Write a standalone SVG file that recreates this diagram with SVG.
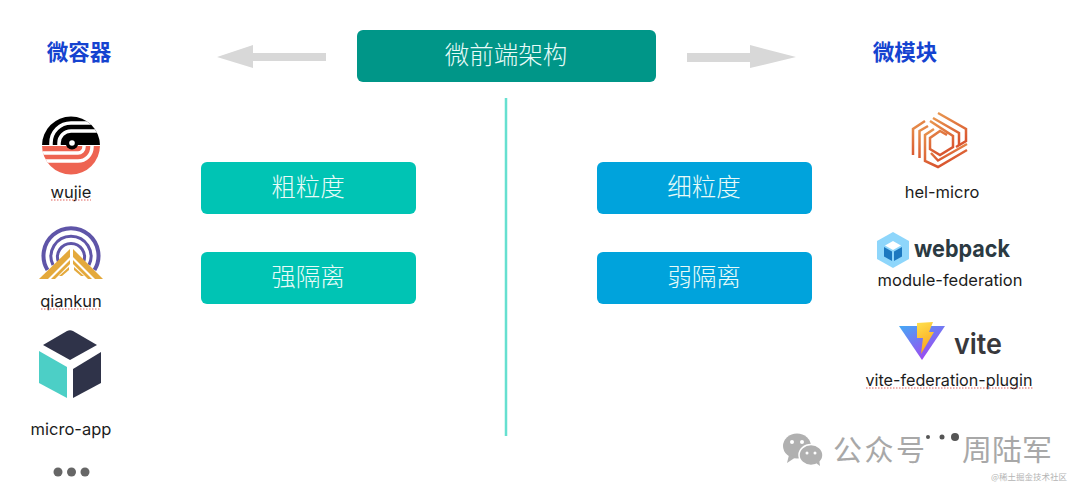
<svg xmlns="http://www.w3.org/2000/svg" width="1080" height="494" viewBox="0 0 1080 494">
<defs>
<linearGradient id="helg" x1="0" y1="0" x2="0.3" y2="1"><stop offset="0" stop-color="#e8964f"/><stop offset="1" stop-color="#d9552f"/></linearGradient>
<linearGradient id="viteg" x1="0" y1="0" x2="0.7" y2="1"><stop offset="0" stop-color="#45a9f5"/><stop offset="1" stop-color="#a640f0"/></linearGradient>
<linearGradient id="viteb" x1="0" y1="0" x2="0.3" y2="1"><stop offset="0" stop-color="#ffe14d"/><stop offset="1" stop-color="#f9a51f"/></linearGradient>
<clipPath id="wujieC"><circle cx="71" cy="145.500" r="29"/></clipPath>
</defs>
<style>
.box{font-family:"Noto Sans CJK SC",sans-serif;font-size:24.500px;font-weight:300;fill:#e8fbf8;text-anchor:middle}
.title{font-family:"Noto Sans CJK SC",sans-serif;font-size:21.500px;font-weight:700;fill:#1543d0;text-anchor:middle}
.lab{font-family:"Inter","Liberation Sans",sans-serif;font-size:16.500px;fill:#1c1c1c;text-anchor:middle}
.logo{font-family:"Inter","Liberation Sans",sans-serif;font-weight:700}
.sq{stroke:#e0605a;stroke-width:1;stroke-dasharray:1.500 1.500;fill:none}
.arrow{fill:#d8d8d8}
.wm{font-family:"Noto Sans CJK SC",sans-serif;font-size:29px;fill:#a8a8a8}
.small{font-family:"Noto Sans CJK SC",sans-serif;font-size:8.500px;fill:#b4b4b4}
</style>
<rect width="1080" height="494" fill="#ffffff"/>

<g id="connectors">
<polygon class="arrow" points="217,57 253,45 253,53 326,53 326,61 253,61 253,68"/>
<polygon class="arrow" points="796,57 750,45 750,53 687,53 687,62 750,62 750,68"/>
<line x1="506" y1="98" x2="506" y2="436" stroke="#66e0d0" stroke-width="2.500"/>
</g>

<g id="node-root"><rect x="357" y="30" width="299" height="52" rx="6" fill="#009688"/><text class="box" x="506" y="64">微前端架构</text></g>
<g id="node-coarse"><rect x="201" y="162" width="215" height="52" rx="6" fill="#00c4b4"/><text class="box" x="308" y="196">粗粒度</text></g>
<g id="node-strong"><rect x="201" y="252" width="215" height="52" rx="6" fill="#00c4b4"/><text class="box" x="308" y="286">强隔离</text></g>
<g id="node-fine"><rect x="597" y="162" width="215" height="52" rx="6" fill="#00a3dc"/><text class="box" x="704" y="196">细粒度</text></g>
<g id="node-weak"><rect x="597" y="252" width="215" height="52" rx="6" fill="#00a3dc"/><text class="box" x="704" y="286">弱隔离</text></g>

<g id="node-micro-container-title"><text class="title" x="79" y="60">微容器</text></g>
<g id="node-micro-module-title"><text class="title" x="905" y="60">微模块</text></g>

<g id="node-wujie">
<g clip-path="url(#wujieC)">
<rect x="40" y="114" width="62" height="31" fill="#000"/>
<rect x="40" y="146" width="62" height="31" fill="#ee6452"/>
<g fill="none" stroke="#fff" stroke-width="3.500">
<path d="M51,146 V143 A20,20 0 0 1 71,123 H104"/>
<path d="M59,146 V143 A12,12 0 0 1 71,131 H104"/>
</g>
<circle cx="72" cy="143" r="6.500" fill="#000"/>
<circle cx="72" cy="143" r="2.800" fill="#fff"/>
<g fill="none" stroke="#fff" stroke-width="3.500">
<path d="M84,146 V147 A6,6 0 0 1 78,153 H40"/>
<path d="M92,146 V147 A14,14 0 0 1 78,161 H40"/>
</g>
</g>
<text class="lab" x="71" y="198">wujie</text>
<line class="sq" x1="51" y1="200" x2="91" y2="200"/>
</g>

<g id="node-qiankun">
<g fill="none" stroke="#5f55a8">
<path d="M47.500,270 A27.500,27.500 0 1 1 94.500,270" stroke-width="4"/>
<path d="M53,265 A20,20 0 1 1 89,265" stroke-width="3"/>
<path d="M58.500,262 A13.500,13.500 0 1 1 83.500,262" stroke-width="3"/>
</g>
<g fill="#e4a93c">
<polygon points="70,249 70,257 48,279 39,279"/>
<polygon points="73,249 73,257 95,279 103,279"/>
<polygon points="70,260 70,264 55,279 51,279"/>
<polygon points="73,260 73,264 88,279 92,279"/>
<polygon points="69,267 69,270 62,276 59,276"/>
<polygon points="74,267 74,270 81,276 84,276"/>
</g>
<text class="lab" x="71" y="307">qiankun</text>
<line class="sq" x1="41" y1="309" x2="101" y2="309"/>
</g>

<g id="node-micro-app">
<path d="M67,331 Q70,329.500 73,331 L97,345 L70,360 L43,345 Z" fill="#2f3349"/>
<polygon points="39,351 67,367 67,398 39,383" fill="#4ccfc6"/>
<polygon points="101,352 73,369 73,398 101,383" fill="#2f3349"/>
<text class="lab" x="71" y="435">micro-app</text>
</g>

<g id="node-more" fill="#666">
<circle cx="58" cy="472" r="4.500"/><circle cx="71.500" cy="472" r="4.500"/><circle cx="85" cy="472" r="4.500"/>
</g>

<g id="node-hel-micro">
<g fill="none" stroke="url(#helg)" stroke-width="2.500">
<path d="M938,113 L966,129 V141 L956,147"/>
<path d="M933,118 L959,133 V145"/>
<path d="M930,121 L953,136 V147 L940,155 L930,149 V138 L940,131 L947,135"/>
<path d="M925,121 L913,129 V155"/>
<path d="M928,126 L919.500,131 V158"/>
<path d="M934,129 L925,135 V161 L938,167 L967,150"/>
<path d="M931,153 L938,160.500 L967,144"/>
</g>
<text class="lab" x="942" y="198">hel-micro</text>
</g>

<g id="node-webpack">
<polygon points="893,232 909,241 909,259 893,268 877,259 877,241" fill="#8ed6fb"/>
<polygon points="893,241 901,245.500 893,250 885,245.500" fill="#fff"/>
<polygon points="884,247 892,251.500 892,261 884,256.500" fill="#1c78c0"/>
<polygon points="902,247 894,251.500 894,261 902,256.500" fill="#1c78c0"/>
<text class="logo" x="914" y="257" font-size="24" fill="#2b3a42" textLength="96" lengthAdjust="spacingAndGlyphs">webpack</text>
<text class="lab" x="950" y="286">module-federation</text>
</g>

<g id="node-vite">
<polygon points="899,326 945,326 922,360" fill="url(#viteg)"/>
<polygon points="917,323 933,322 929,332 934,332 921,354 923,338 917,338" fill="url(#viteb)"/>
<text class="logo" x="954" y="354" font-size="28" style="font-weight:600" fill="#38383c" textLength="48" lengthAdjust="spacingAndGlyphs">vite</text>
<text class="lab" x="949" y="386" textLength="167" lengthAdjust="spacingAndGlyphs">vite-federation-plugin</text>
<line class="sq" x1="866" y1="388" x2="1033" y2="388"/>
</g>

<g id="watermark">
<ellipse cx="797" cy="446" rx="14" ry="12.500" fill="#b0b0b0"/>
<path d="M789,455 L787,463 L796,457 Z" fill="#b0b0b0"/>
<ellipse cx="811" cy="455" rx="12" ry="10.500" fill="#b0b0b0" stroke="#fff" stroke-width="1.500"/>
<path d="M816,463 L820,466 L819,459 Z" fill="#b0b0b0"/>
<g fill="#fff"><circle cx="792" cy="442" r="2"/><circle cx="802" cy="442" r="2"/><circle cx="807" cy="453" r="1.500"/><circle cx="815" cy="453" r="1.500"/></g>
<text class="wm" x="833" y="461" textLength="92" lengthAdjust="spacing">公众号</text>
<text class="wm" x="962" y="461" textLength="90" lengthAdjust="spacingAndGlyphs">周陆军</text>
<g fill="#555"><circle cx="928" cy="437" r="2"/><circle cx="942" cy="437" r="2.500"/><circle cx="955" cy="437" r="4"/></g>
<text class="small" x="991" y="480">@稀土掘金技术社区</text>
</g>
</svg>
